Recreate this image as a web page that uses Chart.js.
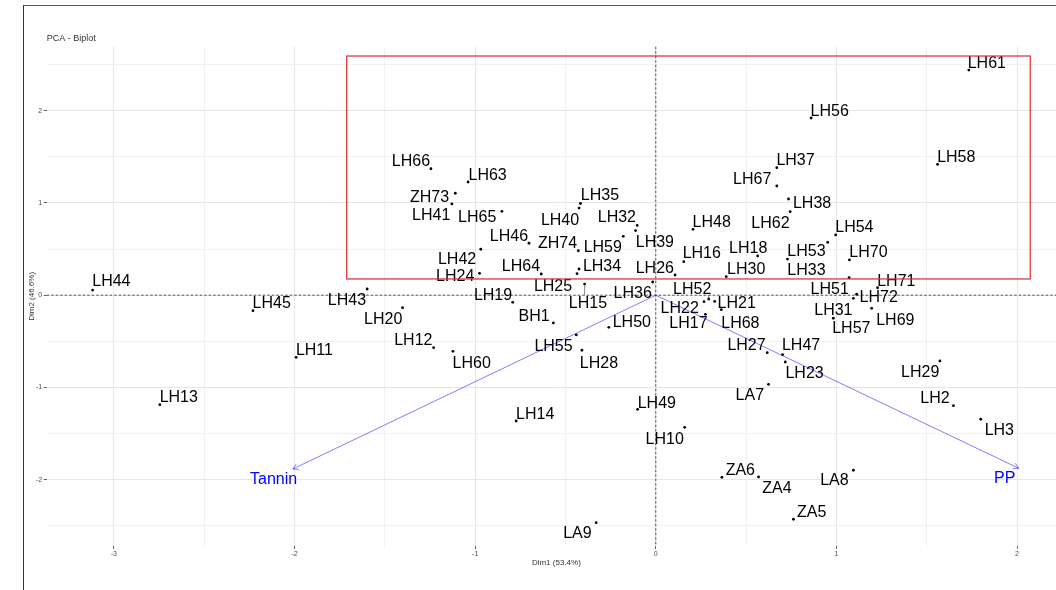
<!DOCTYPE html>
<html>
<head>
<meta charset="utf-8">
<script src="https://cdn.jsdelivr.net/npm/chart.js@4.4.0/dist/chart.umd.min.js"></script>
<style>
  html, body { margin: 0; padding: 0; background: #fff; overflow: hidden; }
  #wrap { position: relative; width: 1056px; height: 590px; overflow: hidden; }
  #biplot { display: block; }
  #frame { position: absolute; left: 23px; top: 5px; right: -10px; bottom: -10px;
           border-left: 1px solid #333; border-top: 1px solid #555; pointer-events: none; }
</style>
</head>
<body>
<div id="wrap">
  <canvas id="biplot" width="1070" height="590"></canvas>
  <div id="frame"></div>
</div>
<script>
const samples = ["LH61","LH56","LH58","LH37","LH66","LH63","LH67","ZH73","LH38","LH35",
  "LH41","LH40","LH65","LH62","LH32","LH48","LH39","LH54","LH59","LH53",
  "LH46","LH42","ZH74","LH18","LH33","LH70","LH16","LH34","LH24","LH25",
  "LH64","LH26","LH30","LH51","LH36","LH15","LH71","LH43","LH44","LH72",
  "LH31","LH52","LH21","LH22","LH19","LH20","LH69","LH68","LH45","LH17",
  "LH57","BH1","LH50","LH55","LH12","LH28","LH60","LH27","LH47","LH11",
  "LH29","LH23","LA7","LH13","LH2","LH49","LH3","LH14","LH10","LA8",
  "ZA4","ZA6","ZA5","LA9"];
const dim1 = [1.733, 0.860, 1.560, 0.670, -1.245, -1.039, 0.670, -1.110, 0.735, -0.417,
  -1.129, -0.425, -0.852, 0.744, -0.103, 0.206, -0.112, 0.996, -0.180, 0.952,
  -0.702, -0.969, -0.429, 0.564, 0.729, 1.072, 0.155, -0.425, -0.976, -0.436,
  -0.634, 0.107, 0.390, 1.070, -0.017, -0.394, 1.228, -1.598, -3.118, 1.112,
  1.094, 0.293, 0.326, 0.267, -0.792, -1.402, 1.195, 0.363, -2.230, 0.275,
  0.983, -0.567, -0.260, -0.440, -1.230, -0.409, -1.123, 0.617, 0.702, -1.991,
  1.573, 0.717, 0.624, -2.746, 1.648, -0.101, 1.799, -0.773, 0.160, 1.094,
  0.569, 0.366, 0.762, -0.330];
const dim2 = [2.441, 1.921, 1.419, 1.382, 1.371, 1.227, 1.184, 1.105, 1.043, 0.994,
  0.989, 0.945, 0.909, 0.905, 0.756, 0.714, 0.701, 0.653, 0.638, 0.573,
  0.563, 0.498, 0.482, 0.425, 0.392, 0.382, 0.363, 0.284, 0.237, 0.233,
  0.230, 0.219, 0.201, 0.190, 0.143, 0.121, 0.081, 0.067, 0.056, 0.010,
  -0.034, -0.041, -0.068, -0.070, -0.077, -0.136, -0.142, -0.157, -0.168, -0.207,
  -0.250, -0.301, -0.348, -0.431, -0.569, -0.597, -0.608, -0.623, -0.645, -0.673,
  -0.713, -0.724, -0.966, -1.187, -1.198, -1.237, -1.345, -1.364, -1.432, -1.898,
  -1.971, -1.974, -2.429, -2.466];

const variables = ["Tannin", "PP"];
const varDim1 = [-2.009, 2.009];
const varDim2 = [-1.884, -1.876];

const xTickLabels = [-3, -2, -1, 0, 1, 2];
const yTickLabels = [-2, -1, 0, 1, 2];

// red selection box: xmin, xmax, ymin, ymax (Dim units)
const highlight = [-1.711, 2.073, 0.176, 2.593];

// where the repelled labels sit, px offset of the label centre from its point
const nudge = {
  LH44: [18.8, -9.5], LH45: [18.7, -8.2], LH11: [18.3, -8.3], LH13: [19, -8.7],
  LH66: [-20, -8.5], LH63: [19.5, -8], ZH73: [-25.7, 2.7], LH41: [-20.7, 10],
  LH65: [-24.7, 4.7], LH35: [19.5, -9.5], LH40: [-19, 11], LH32: [-20.3, -9.5],
  LH39: [19.3, 10.5], LH46: [-20, -8.3], ZH74: [-20.8, -8.7], LH59: [-20.5, 9.7],
  LH42: [-23.7, 8.7], LH24: [-24.3, 1.7], LH64: [-20.3, -9], LH34: [23, -4],
  LH25: [-24, 11.3], LH15: [3.3, 18], LH19: [-19.7, -8.3], LH36: [-20, 10],
  LH26: [-20.3, -8], LH43: [-20.2, 10], LH20: [-19.3, 10.8], LH12: [-20.3, -8.7],
  LH60: [18.8, 10.7], BH1: [-19.3, -8], LH55: [-22.8, 10], LH28: [17, 11.7],
  LH50: [23, -6.3], LH14: [19, -8], LH49: [19.3, -7.3], LH10: [-20, 10.7],
  LA9: [-18.8, 9.3], LH22: [-24.3, 5.8], LH52: [-16.5, -11], LH21: [22, 0.5],
  LH68: [19, 12.3], LH17: [-17, 7.7], LH51: [-19.4, 10.6], LH72: [22, 1.7],
  LH31: [-20, 11.2], LH57: [18, 9.2], LH69: [23.7, 10.7], LH71: [18.7, -7.7],
  LH61: [18, -8.3], LH56: [18.6, -8], LH58: [18.7, -8.3], LH37: [18.7, -8.7],
  LH67: [-24.6, -7.7], LH38: [23.5, 3.7], LH62: [-19.7, 10], LH48: [18.7, -8.3],
  LH54: [18.7, -9], LH53: [-21.3, 7.7], LH70: [19, -9], LH33: [19, 10],
  LH18: [-9.5, -8.5], LH30: [20, -8.7], LH16: [18, -9.7], LH27: [-20.7, -8.2],
  LH47: [18.5, -10.2], LH23: [19.3, 10], LA7: [-18.7, 10.2], LH29: [-19.7, 10],
  LH2: [-18.5, -9], LH3: [18.6, 9.7], ZA6: [18.4, -8.3], ZA4: [18.3, 10.5],
  LA8: [-19, 9.4], ZA5: [18.3, -8.3]
};
const varNudge = { Tannin: [-19.3, 9.5], PP: [-14, 8.7] };
const withLeader = ["LH15", "LH52"];

const FONT = '"Liberation Sans", Arial, sans-serif';
const isWhole = v => Math.abs(v - Math.round(v)) < 1e-6;

const biplotDecor = {
  id: "biplotDecor",
  beforeDatasetsDraw(chart) {
    const { ctx, chartArea: a, scales: { x, y } } = chart;
    const x0 = x.getPixelForValue(0), y0 = y.getPixelForValue(0);
    ctx.save();
    ctx.strokeStyle = "#444";
    ctx.lineWidth = 0.9;
    ctx.setLineDash([2.5, 2]);
    ctx.beginPath();
    ctx.moveTo(a.left, y0); ctx.lineTo(a.right, y0);
    ctx.moveTo(x0, a.top); ctx.lineTo(x0, a.bottom);
    ctx.stroke();
    ctx.restore();
  },
  afterDatasetsDraw(chart) {
    const { ctx, chartArea: a, scales: { x, y } } = chart;
    ctx.save();

    // sample labels
    ctx.font = "16px " + FONT;
    ctx.textAlign = "center";
    ctx.textBaseline = "alphabetic";
    samples.forEach((name, i) => {
      const px = x.getPixelForValue(dim1[i]), py = y.getPixelForValue(dim2[i]);
      const [dx, dy] = nudge[name] || [18, -8];
      const cx = px + dx, cy = py + dy;
      if (withLeader.includes(name)) {
        const hw = ctx.measureText(name).width / 2;
        const ex = Math.min(Math.max(px, cx - hw), cx + hw);
        const ey = Math.min(Math.max(py, cy - 7), cy + 7);
        ctx.strokeStyle = "#555";
        ctx.lineWidth = 0.7;
        ctx.beginPath(); ctx.moveTo(px, py); ctx.lineTo(ex, ey); ctx.stroke();
      }
      ctx.fillStyle = "#000";
      ctx.fillText(name, cx, cy + 5.8);
    });

    // variable arrows
    const ox = x.getPixelForValue(0), oy = y.getPixelForValue(0);
    variables.forEach((name, i) => {
      const tx = x.getPixelForValue(varDim1[i]), ty = y.getPixelForValue(varDim2[i]);
      const ang = Math.atan2(ty - oy, tx - ox);
      ctx.strokeStyle = "rgba(0,0,255,0.5)";
      ctx.lineWidth = 1;
      ctx.beginPath();
      ctx.moveTo(ox, oy); ctx.lineTo(tx, ty);
      for (const s of [-1, 1]) {
        ctx.moveTo(tx, ty);
        ctx.lineTo(tx - 6 * Math.cos(ang + s * Math.PI / 6), ty - 6 * Math.sin(ang + s * Math.PI / 6));
      }
      ctx.stroke();
      const [dx, dy] = varNudge[name];
      ctx.fillStyle = "#0000ff";
      ctx.fillText(name, tx + dx, ty + dy + 5.8);
    });

    // highlight box
    const bx1 = x.getPixelForValue(highlight[0]), bx2 = x.getPixelForValue(highlight[1]);
    const by1 = y.getPixelForValue(highlight[3]), by2 = y.getPixelForValue(highlight[2]);
    ctx.strokeStyle = "#dd2a2a";
    ctx.lineWidth = 1.2;
    ctx.strokeRect(bx1, by1, bx2 - bx1, by2 - by1);

    // plot title
    ctx.font = "9px " + FONT;
    ctx.fillStyle = "#333";
    ctx.textAlign = "left";
    ctx.textBaseline = "middle";
    ctx.fillText("PCA - Biplot", a.left, a.top - 8);
    ctx.restore();
  }
};

const gridOpts = {
  color: c => isWhole(c.tick.value) ? "#e6e6e6" : "#f1f1f1",
  tickColor: c => isWhole(c.tick.value) ? "#666" : "rgba(0,0,0,0)",
  lineWidth: 1,
  tickLength: 3
};

new Chart(document.getElementById("biplot"), {
  type: "scatter",
  data: {
    datasets: [{
      data: samples.map((s, i) => ({ x: dim1[i], y: dim2[i] })),
      pointRadius: 1.4,
      pointBackgroundColor: "#000",
      pointBorderWidth: 0
    }]
  },
  options: {
    responsive: false,
    animation: false,
    devicePixelRatio: 1,
    events: [],
    layout: { padding: { top: 46.7, left: 0, right: 2, bottom: 0 } },
    plugins: { legend: { display: false }, tooltip: { enabled: false } },
    scales: {
      x: {
        type: "linear",
        min: -3.372,
        max: 2.271,
        afterFit(s) { s.height = 44; },
        border: { display: false },
        grid: gridOpts,
        ticks: {
          stepSize: 0.5, includeBounds: false, autoSkip: false, maxRotation: 0,
          padding: 1, color: "#4d4d4d", font: { size: 7, family: FONT },
          callback: v => xTickLabels.includes(v) ? String(v) : ""
        },
        title: { display: true, text: "Dim1 (53.4%)", color: "#333",
                 font: { size: 8, family: FONT }, padding: { top: 0, bottom: 22.5 } }
      },
      y: {
        type: "linear",
        min: -2.719,
        max: 2.694,
        afterFit(s) { s.width = 46.7; },
        border: { display: false },
        grid: gridOpts,
        ticks: {
          stepSize: 0.5, includeBounds: false, autoSkip: false,
          padding: 1.5, color: "#4d4d4d", font: { size: 7, family: FONT },
          callback: v => yTickLabels.includes(v) ? String(v) : ""
        },
        title: { display: true, text: "Dim2 (46.6%)", color: "#333",
                 font: { size: 8, family: FONT }, padding: { top: 27, bottom: 0 } }
      }
    }
  },
  plugins: [biplotDecor]
});
</script>
</body>
</html>
